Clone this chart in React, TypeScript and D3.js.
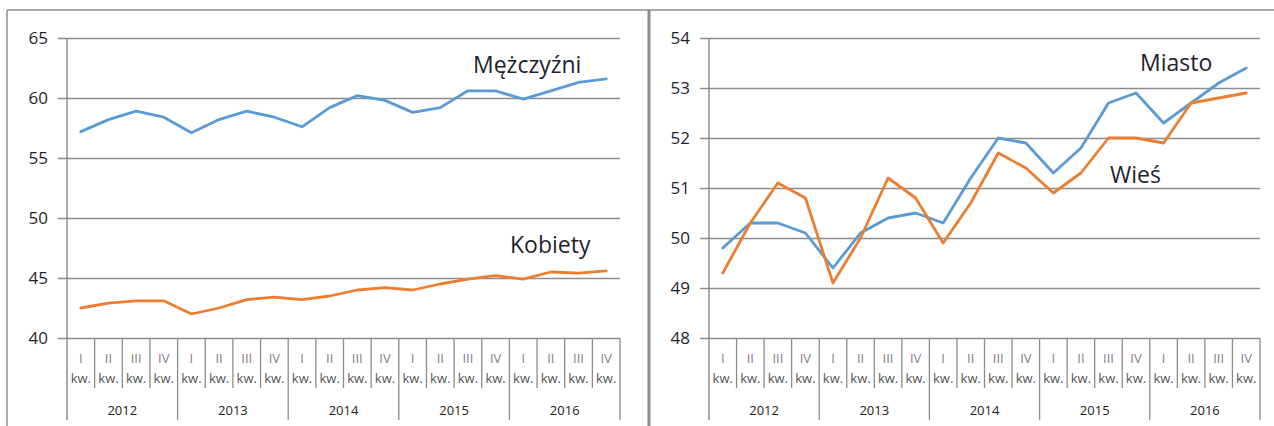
import React, { useEffect, useRef } from 'react';
import * as d3 from 'd3';

// quarterly categories
const years = ['2012', '2013', '2014', '2015', '2016'];
const quarters = ['I', 'II', 'III', 'IV'];

// left panel: by sex
const menValues = [57.2, 58.2, 58.9, 58.4, 57.1, 58.2, 58.9, 58.4, 57.6, 59.2, 60.2, 59.8, 58.8, 59.2, 60.6, 60.6, 59.9, 60.6, 61.3, 61.6];
const womenValues = [42.5, 42.9, 43.1, 43.1, 42.0, 42.5, 43.2, 43.4, 43.2, 43.5, 44.0, 44.2, 44.0, 44.5, 44.9, 45.2, 44.9, 45.5, 45.4, 45.6];
const leftTicks = [40, 45, 50, 55, 60, 65];

// right panel: by place of residence
const cityValues = [49.8, 50.3, 50.3, 50.1, 49.4, 50.1, 50.4, 50.5, 50.3, 51.2, 52.0, 51.9, 51.3, 51.8, 52.7, 52.9, 52.3, 52.7, 53.1, 53.4];
const ruralValues = [49.3, 50.3, 51.1, 50.8, 49.1, 50.0, 51.2, 50.8, 49.9, 50.7, 51.7, 51.4, 50.9, 51.3, 52.0, 52.0, 51.9, 52.7, 52.8, 52.9];
const rightTicks = [48, 49, 50, 51, 52, 53, 54];

const BLUE = '#5b9bd5';
const ORANGE = '#ed7d31';
const GRID = '#8c8c8c';
const FONT = '"Open Sans", "Noto Sans", sans-serif';

const categories = years.flatMap(y => quarters.map(q => ({ year: y, q })));

function drawPanel(svg, cfg) {
  const { x0, x1, yTop, yBottom, domain, ticks, series } = cfg;
  const g = svg.append('g');

  const xScale = d3.scaleBand()
    .domain(categories.map((_, i) => String(i)))
    .range([x0, x1])
    .padding(0);
  const bw = xScale.bandwidth();

  const yScale = d3.scaleLinear()
    .domain(domain)
    .range([yBottom, yTop]);

  // gridlines + y tick labels
  const yAxis = g.append('g')
    .attr('transform', `translate(${x0},0)`)
    .call(d3.axisLeft(yScale).tickValues(ticks).tickSize(9).tickPadding(10).tickFormat(d3.format('d')));
  yAxis.select('.domain').remove();
  yAxis.selectAll('.tick line').attr('stroke', GRID).attr('stroke-width', 1.3).attr('x2', x1 - x0).attr('x1', -9);
  yAxis.selectAll('.tick text')
    .attr('fill', '#1f1f2e')
    .style('font-family', FONT)
    .style('font-size', '17px');

  // vertical axis line
  g.append('line')
    .attr('x1', x0).attr('x2', x0)
    .attr('y1', yTop).attr('y2', 420)
    .attr('stroke', GRID).attr('stroke-width', 1.5);

  // category separators
  for (let i = 1; i <= categories.length; i++) {
    const x = i === categories.length ? x1 : xScale(String(i));
    g.append('line')
      .attr('x1', x).attr('x2', x)
      .attr('y1', yBottom).attr('y2', i % 4 === 0 ? 420 : 388)
      .attr('stroke', GRID).attr('stroke-width', 1.3);
  }

  // category labels
  categories.forEach((c, i) => {
    const cx = xScale(String(i)) + bw / 2;
    g.append('text')
      .attr('x', cx).attr('y', 363)
      .attr('text-anchor', 'middle')
      .attr('fill', '#8a7a8a')
      .style('font-family', FONT).style('font-size', '13px')
      .text(c.q);
    g.append('text')
      .attr('x', cx).attr('y', 383)
      .attr('text-anchor', 'middle')
      .attr('fill', '#555')
      .style('font-family', FONT).style('font-size', '13px')
      .text('kw.');
  });
  years.forEach((y, j) => {
    const cx = xScale(String(j * 4)) + bw * 2;
    g.append('text')
      .attr('x', cx).attr('y', 415)
      .attr('text-anchor', 'middle')
      .attr('fill', '#222')
      .style('font-family', FONT).style('font-size', '13px')
      .text(y);
  });

  // series lines
  const line = d3.line()
    .x((_, i) => xScale(String(i)) + bw / 2)
    .y(d => yScale(d));

  series.forEach(s => {
    g.append('path')
      .datum(s.values)
      .attr('fill', 'none')
      .attr('stroke', s.color)
      .attr('stroke-width', 2.8)
      .attr('stroke-linejoin', 'round')
      .attr('stroke-linecap', 'round')
      .attr('d', line);

    g.append('text')
      .attr('x', s.lx).attr('y', s.ly)
      .attr('fill', '#1f1f2e')
      .style('font-family', FONT).style('font-size', '23px')
      .text(s.label);
  });
}

export default function App() {
  const svgRef = useRef(null);

  useEffect(() => {
    const svg = d3.select(svgRef.current);
    svg.selectAll('*').remove();

    svg.append('rect').attr('width', 1274).attr('height', 426).attr('fill', '#fff');

    // frames
    svg.append('line').attr('x1', 7).attr('x2', 1274).attr('y1', 10).attr('y2', 10)
      .attr('stroke', '#8c8c8c').attr('stroke-width', 1.5);
    svg.append('line').attr('x1', 7).attr('x2', 7).attr('y1', 10).attr('y2', 426)
      .attr('stroke', '#8c8c8c').attr('stroke-width', 1.5);
    svg.append('line').attr('x1', 649).attr('x2', 649).attr('y1', 10).attr('y2', 426)
      .attr('stroke', '#8c8c8c').attr('stroke-width', 3);

    drawPanel(svg, {
      x0: 67, x1: 620, yTop: 38, yBottom: 338,
      domain: [40, 65], ticks: leftTicks,
      series: [
        { values: menValues, color: BLUE, label: 'Mężczyźni', lx: 473, ly: 73 },
        { values: womenValues, color: ORANGE, label: 'Kobiety', lx: 510, ly: 253 },
      ],
    });

    drawPanel(svg, {
      x0: 709, x1: 1260, yTop: 38, yBottom: 338,
      domain: [48, 54], ticks: rightTicks,
      series: [
        { values: cityValues, color: BLUE, label: 'Miasto', lx: 1140, ly: 71 },
        { values: ruralValues, color: ORANGE, label: 'Wieś', lx: 1110, ly: 183 },
      ],
    });
  }, []);

  return (
    <div style={{ position: 'absolute', left: 0, top: 0 }}>
      <svg ref={svgRef} width={1274} height={426} style={{ display: 'block' }}></svg>
    </div>
  );
}
